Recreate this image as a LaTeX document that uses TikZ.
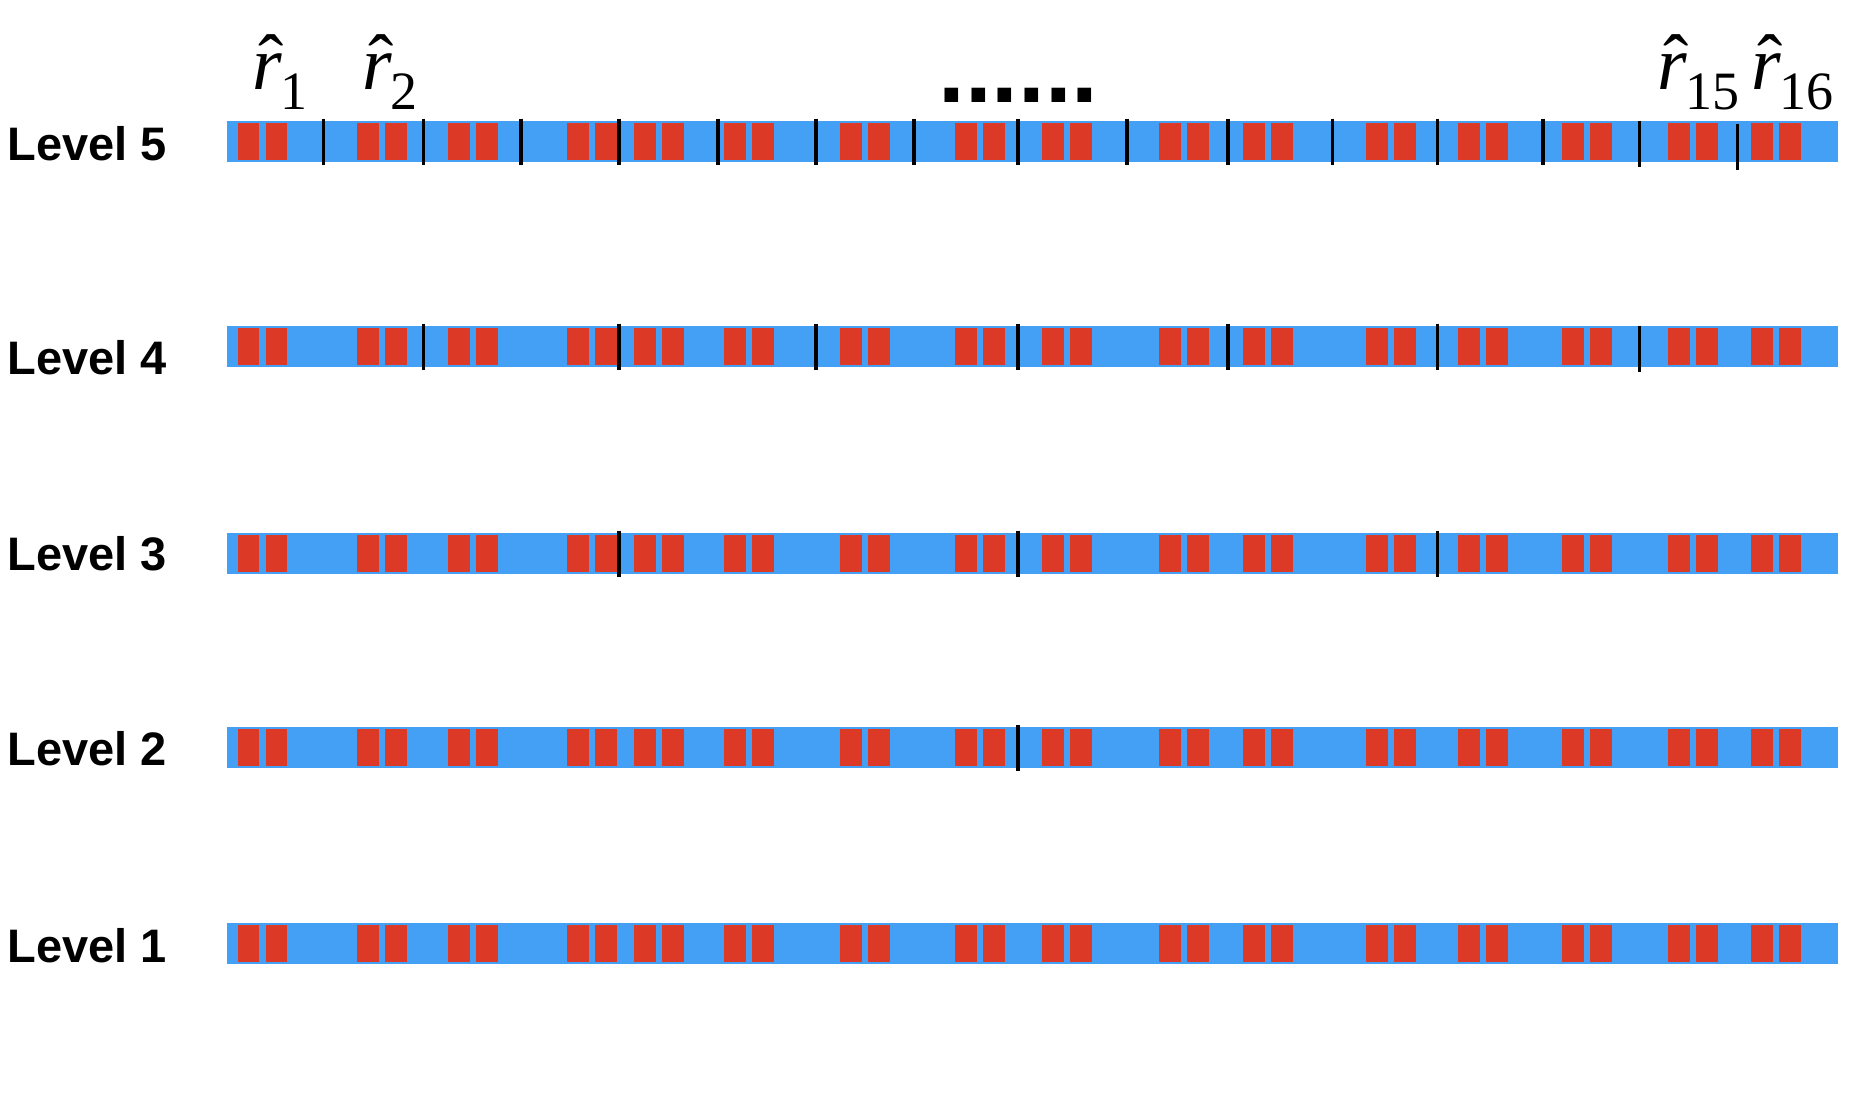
\documentclass[tikz,border=0pt]{standalone}
\usepackage{fontspec}
\newfontfamily\sansb{Liberation Sans}
\newfontfamily\serifr{Liberation Serif}
\definecolor{barblue}{RGB}{67,160,245}
\definecolor{blockred}{RGB}{220,58,39}
\newcommand\rhatlabel[1]{\fontsize{76}{76}\selectfont\serifr\rlap{\hspace{6.7pt}\raisebox{2pt}{ˆ}}\textit{r}\hspace{-2pt}\raisebox{-19.7pt}{\fontsize{54}{54}\selectfont #1}}
\tikzset{
  barstyle/.style={fill=barblue, draw=none},
  blockstyle/.style={fill=blockred, draw=none},
  sepline/.style={draw=black, line width=3.5pt},
  lvl/.style={font=\sansb\bfseries\fontsize{47}{47}\selectfont, anchor=base west, inner sep=0pt},
  rlbl/.style={anchor=base west, inner sep=0pt},
  dotsstyle/.style={font=\sansb\bfseries\fontsize{96}{96}\selectfont, anchor=base west, inner sep=0pt}
}
\def\pairs{237.6,357,448,567,634,724,840,955,1042,1159,1243,1366,1458,1562,1668,1751}
\begin{document}
\begin{tikzpicture}[x=1pt,y=-1pt]
\useasboundingbox (0,0) rectangle (1864,1100);
% bars and blocks
\foreach \T in {120.7,325.5,532.7,727,922.7}{
  \fill[barstyle] (227,\T) rectangle (1838,\T+41);
  \foreach \p in \pairs {
    \fill[blockstyle] (\p,\T+2) rectangle ++(21.5,37);
    \fill[blockstyle] (\p+28,\T+2) rectangle ++(21.5,37);
  }
}
% level 5 separators
\foreach \s in {323.4,423.5,521.1,619.2,718,815.9,913.9,1018,1127,1228,1332.5,1437.7,1542.8}{
  \draw[sepline] (\s,118.7) -- (\s,164.7);
}
\draw[sepline] (1639.3,120.7) -- (1639.3,166.7);
\draw[sepline] (1737.5,124) -- (1737.5,170);
% level 4 separators
\foreach \s in {423.5,619.2,815.9,1018,1228,1437.7}{
  \draw[sepline] (\s,323.5) -- (\s,369.5);
}
\draw[sepline] (1639.3,325.5) -- (1639.3,371.5);
% level 3 separators
\foreach \s in {619.2,1018,1437.7}{
  \draw[sepline] (\s,530.7) -- (\s,576.7);
}
% level 2 separator
\draw[sepline] (1018,725) -- (1018,770.7);
% level labels
\node[lvl] (lab5) at (7.5,160.7) {Level 5};
\node[lvl] (lab4) at (7.5,374) {Level 4};
\node[lvl] (lab3) at (7.5,570) {Level 3};
\node[lvl] (lab2) at (7.5,765.7) {Level 2};
\node[lvl] (lab1) at (7.5,962.3) {Level 1};
% r-hat labels
\node[rlbl] (r1) at (252,89.3) {\rhatlabel{1}};
\node[rlbl] (r2) at (362,89.3) {\rhatlabel{2}};
\node[rlbl] (r15) at (1657,89.3) {\rhatlabel{15}};
\node[rlbl] (r16) at (1751,89.3) {\rhatlabel{16}};
% dots
\node[dotsstyle] (dots) at (938.3,102) {......};
\end{tikzpicture}
\end{document}
